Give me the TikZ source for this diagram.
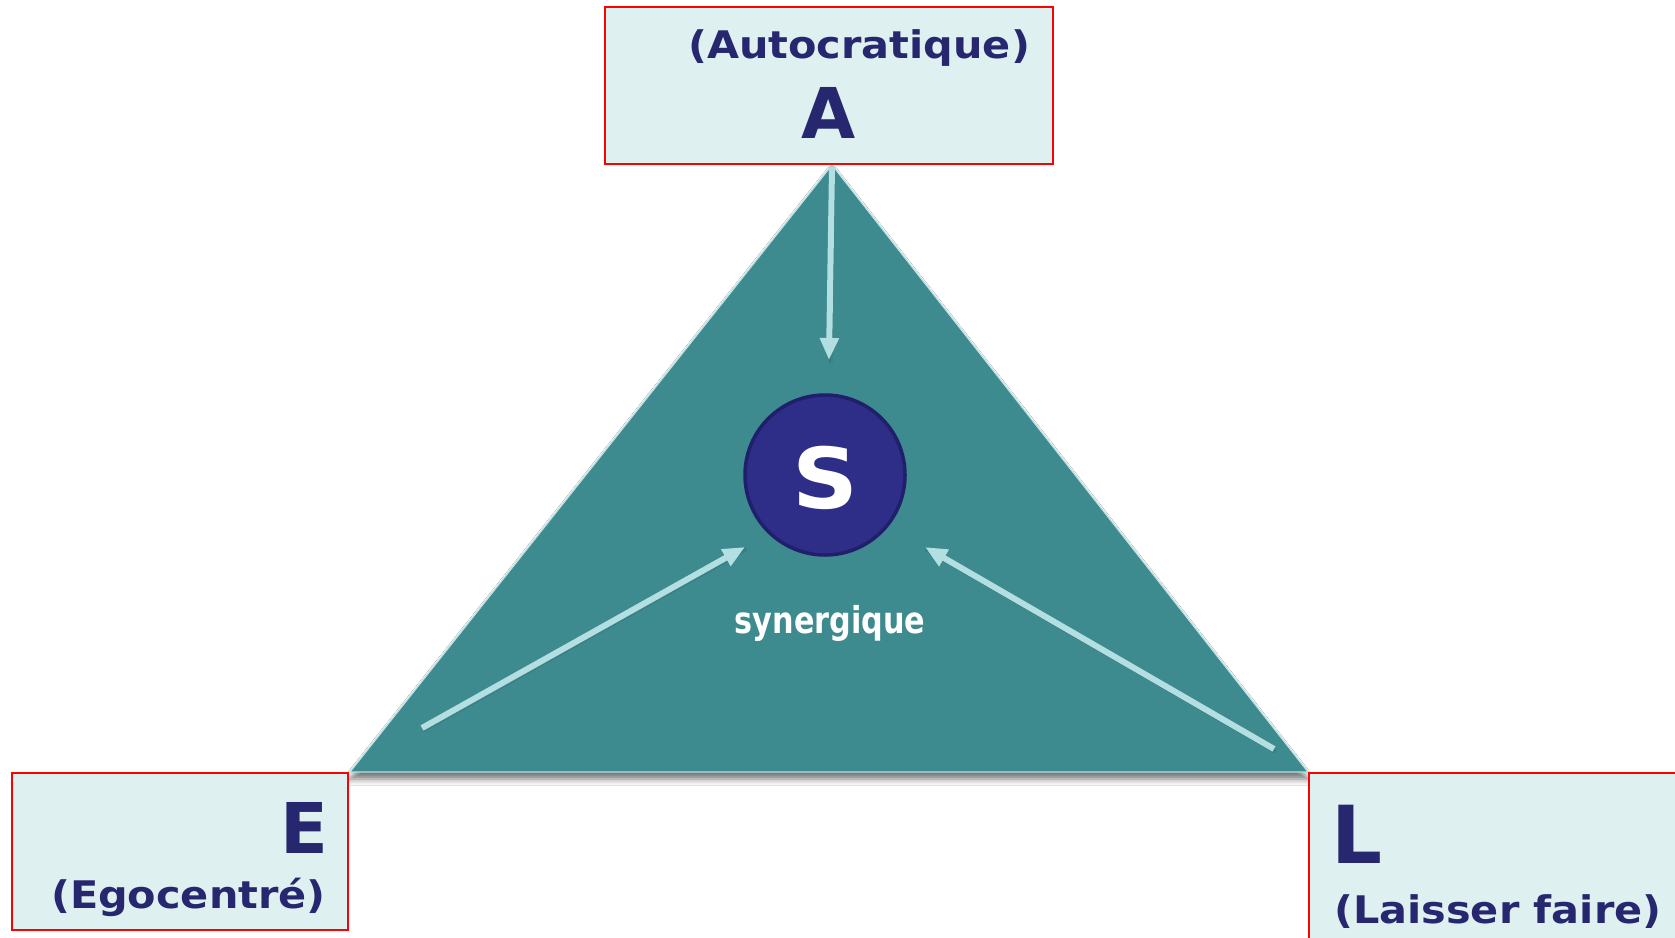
\documentclass[tikz,border=0pt]{standalone}
\usepackage{fontspec}
\setmainfont{DejaVu Sans}
\newfontfamily\widefont[FakeStretch=1.09]{DejaVu Sans}
\newfontfamily\condfont[FakeStretch=0.91]{DejaVu Sans Condensed}
\usetikzlibrary{arrows.meta,shadows.blur}
\definecolor{teal}{HTML}{3D8A8F}
\definecolor{boxfill}{HTML}{DFF0F0}
\definecolor{navy}{HTML}{27276F}
\definecolor{circfill}{HTML}{2E2E88}
\definecolor{circline}{HTML}{1F1F6B}
\definecolor{arrowc}{HTML}{B4DFE2}
\tikzset{
  stylebox/.style={draw=red, line width=2pt, fill=boxfill},
  bigletter/.style={text=navy, font=\bfseries\fontsize{70}{70}\selectfont, inner sep=0pt},
  styleword/.style={text=navy, font=\widefont\bfseries\fontsize{38}{38}\selectfont, inner sep=0pt},
  flow/.style={draw=arrowc, line width=6pt,
    -{Triangle[length=22pt,width=18pt]},
    blur shadow={shadow xshift=1pt, shadow yshift=-2pt, shadow blur radius=2pt, shadow opacity=25}},
}
\begin{document}
\begin{tikzpicture}[x=1pt,y=-1pt]
\useasboundingbox (0,0) rectangle (1675,937);
\fill[white] (0,0) rectangle (1675,937);

% triangle of the three styles
\coordinate (apex) at (832,165);
\coordinate (bl) at (350,772);
\coordinate (br) at (1308,772);
\fill[teal, draw=arrowc, line width=1.2pt,
  blur shadow={shadow xshift=0pt, shadow yshift=-7pt, shadow blur radius=6pt, shadow opacity=55}]
  (apex) -- (br) -- (bl) -- cycle;

% style boxes
\draw[stylebox] (605,7) rectangle (1053,164);
\draw[stylebox] (12,773) rectangle (348,930);
\draw[stylebox] (1309,773) rectangle (1690,950);

\node[styleword, anchor=base] (autw) at (859,58) {(Autocratique)};
\node[bigletter, anchor=base] (A) at (829,138) {A};
\node[bigletter, anchor=base east] (E) at (329,853) {E};
\node[styleword, anchor=base east] (egow) at (326,908) {(Egocentré)};
\node[bigletter, anchor=base west, font=\bfseries\fontsize{80}{80}\selectfont] (L) at (1331,863) {L};
\node[styleword, anchor=base west] (laiw) at (1334,923) {(Laisser faire)};

% synergy centre
\node[circle, fill=circfill, draw=circline, line width=3.5pt, minimum size=160pt, inner sep=0pt] (S) at (825,475) {};
\node[text=white, font=\widefont\bfseries\fontsize{84}{84}\selectfont, inner sep=0pt, anchor=base] (Sl) at (825,508) {S};
\node[text=white, font=\condfont\bfseries\fontsize{37}{37}\selectfont, inner sep=0pt, anchor=base] (syn) at (830,633) {synergique};

% influences towards the centre
\coordinate (ta) at (832,167);
\coordinate (ha) at (829,360);
\coordinate (te) at (422,728);
\coordinate (he) at (745,547);
\coordinate (tl) at (1274,749);
\coordinate (hl) at (925,547);
\draw[flow] (ta) -- (ha);
\draw[flow] (te) -- (he);
\draw[flow] (tl) -- (hl);
\end{tikzpicture}
\end{document}
